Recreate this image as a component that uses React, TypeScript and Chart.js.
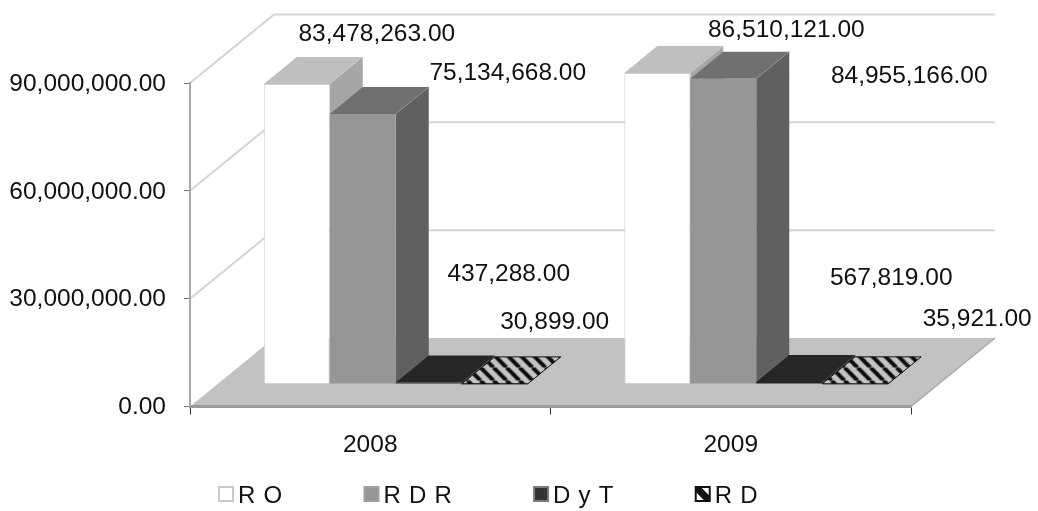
import React, { useEffect, useRef } from "react";
import { Chart, registerables } from "chart.js";

Chart.register(...registerables);

const categories = ["2008", "2009"];
const seriesNames = ["R O", "R D R", "D y T", "R D"];
const roValues = [83478263, 86510121];
const rdrValues = [75134668, 84955166];
const dytValues = [437288, 567819];
const rdValues = [30899, 35921];
const axisTicks = [0, 30000000, 60000000, 90000000];

const FONT = "Liberation Sans, Arial, sans-serif";
const BAR_SHIFT = { x: 25.5, y: -22.5 };
const BAR_DEPTH = { x: 33, y: -27 };
const WALL_DEPTH = { x: 84, y: -68.5 };
const labelOffsets = [
  [[80, -50], [129, -43]],
  [[145, -41], [186, -2]],
  [[80, -110], [102, -106]],
  [[60, -62], [122, -65]],
];
const faces = [
  { front: "#ffffff", top: "#bfbfbf", side: "#a6a6a6" },
  { front: "#969696", top: "#707070", side: "#606060" },
  { front: "#262626", top: "#262626", side: "#262626" },
  { front: "#111111", top: "hatch", side: "#111111" },
];

function hatchPattern(ctx: CanvasRenderingContext2D) {
  const size = 13;
  const tile = document.createElement("canvas");
  tile.width = size;
  tile.height = size;
  const t = tile.getContext("2d")!;
  t.fillStyle = "#c4c4c4";
  t.fillRect(0, 0, size, size);
  t.strokeStyle = "#0c0c0c";
  t.lineWidth = 4;
  for (let i = -size; i <= size * 2; i += size) {
    t.beginPath();
    t.moveTo(i, 0);
    t.lineTo(i + size, size);
    t.stroke();
  }
  return ctx.createPattern(tile, "repeat")!;
}

function poly(ctx: CanvasRenderingContext2D, pts: number[][], fill: any) {
  ctx.fillStyle = fill;
  ctx.beginPath();
  pts.forEach((p, i) => (i ? ctx.lineTo(p[0], p[1]) : ctx.moveTo(p[0], p[1])));
  ctx.closePath();
  ctx.fill();
}

const box3d = {
  id: "box3d",
  beforeDraw(chart: any) {
    const { ctx, chartArea: a, scales } = chart;
    const d = WALL_DEPTH;
    ctx.save();
    poly(ctx, [[a.left, a.bottom], [a.right, a.bottom], [a.right + d.x, a.bottom + d.y], [a.left + d.x, a.bottom + d.y]], "#c2c2c2");
    ctx.strokeStyle = "#d4d4d4";
    ctx.lineWidth = 2;
    axisTicks.slice(1).forEach((v) => {
      const y = scales.y.getPixelForValue(v);
      ctx.beginPath();
      ctx.moveTo(a.left, y);
      ctx.lineTo(a.left + d.x, y + d.y);
      ctx.lineTo(a.right + d.x, y + d.y);
      ctx.stroke();
    });
    ctx.strokeStyle = "#a8a8a8";
    ctx.lineWidth = 1.5;
    ctx.beginPath();
    ctx.moveTo(a.right, a.bottom);
    ctx.lineTo(a.right + d.x, a.bottom + d.y);
    ctx.stroke();
    ctx.restore();
  },
  beforeDatasetsDraw(chart: any) {
    const { ctx } = chart;
    const d = BAR_DEPTH;
    ctx.save();
    ctx.translate(BAR_SHIFT.x, BAR_SHIFT.y);
    chart.data.datasets.forEach((_: any, i: number) => {
      const meta = chart.getDatasetMeta(i);
      const f = faces[i];
      const top = f.top === "hatch" ? hatchPattern(ctx) : f.top;
      meta.data.forEach((el: any) => {
        const { x, y, base, width } = el.getProps(["x", "y", "base", "width"], true);
        const l = x - width / 2;
        const r = x + width / 2;
        poly(ctx, [[r, y], [r + d.x, y + d.y], [r + d.x, base + d.y], [r, base]], f.side);
        poly(ctx, [[l, y], [l + d.x, y + d.y], [r + d.x, y + d.y], [r, y]], top);
        if (i === 1) {
          ctx.strokeStyle = "#8c8c8c";
          ctx.lineWidth = 1;
          ctx.beginPath();
          ctx.moveTo(r, y);
          ctx.lineTo(r + d.x, y + d.y);
          ctx.stroke();
        }
        if (i === 3) {
          ctx.strokeStyle = "#111111";
          ctx.lineWidth = 1;
          ctx.beginPath();
          ctx.moveTo(l, y);
          ctx.lineTo(l + d.x, y + d.y);
          ctx.lineTo(r + d.x, y + d.y);
          ctx.lineTo(r, y);
          ctx.closePath();
          ctx.stroke();
        }
      });
      meta.controller.draw();
    });
    ctx.restore();
    return false;
  },
  afterDraw(chart: any) {
    const { ctx } = chart;
    ctx.save();
    ctx.font = `24.5px ${FONT}`;
    ctx.fillStyle = "#111111";
    ctx.textAlign = "center";
    ctx.textBaseline = "middle";
    chart.data.datasets.forEach((ds: any, i: number) => {
      chart.getDatasetMeta(i).data.forEach((el: any, j: number) => {
        const label = ds.data[j].toLocaleString("en-US", { minimumFractionDigits: 2 });
        const [ox, oy] = labelOffsets[i][j];
        const py = i < 2 ? el.y : chart.scales.y.getPixelForValue(0);
        ctx.fillText(label, el.x + BAR_SHIFT.x + ox, py + BAR_SHIFT.y + oy);
      });
    });
    ctx.font = `24px ${FONT}`;
    ctx.textAlign = "left";
    const boxStyle = [
      { fill: "#ffffff", line: "#c8c8c8" },
      { fill: "#969696", line: "#a0a0a0" },
      { fill: "#333333", line: "#7a7a7a" },
      { fill: "#ffffff", line: "#111111" },
    ];
    let x = 218;
    const y = 494;
    (ctx as any).wordSpacing = "1.5px";
    seriesNames.forEach((name, i) => {
      ctx.fillStyle = boxStyle[i].fill;
      ctx.strokeStyle = boxStyle[i].line;
      ctx.lineWidth = 2;
      ctx.fillRect(x + 1, y - 7, 14, 14);
      if (i === 3) {
        poly(ctx, [[x + 1, y - 7], [x + 6, y - 7], [x + 15, y + 2], [x + 15, y + 7], [x + 10, y + 7], [x + 1, y - 2]], "#111111");
      }
      ctx.strokeRect(x + 1, y - 7, 14, 14);
      ctx.fillStyle = "#111111";
      ctx.fillText(name, x + 20, y + 2);
      x += 20 + ctx.measureText(name).width + 81.3;
    });
    ctx.restore();
  },
};

export default function App() {
  const ref = useRef<HTMLCanvasElement>(null);
  useEffect(() => {
    const values = [roValues, rdrValues, dytValues, rdValues];
    const chart = new Chart(ref.current!, {
      type: "bar",
      plugins: [box3d],
      data: {
        labels: categories,
        datasets: seriesNames.map((name, i) => ({
          label: name,
          data: values[i],
          clip: false,
          backgroundColor: faces[i].front,
          borderColor: i === 0 ? "#d2d2d2" : faces[i].front,
          borderWidth: i === 0 ? 1 : 0,
        })),
      } as any,
      options: {
        animation: false,
        responsive: false,
        layout: { padding: { left: 0, right: 127, top: 83, bottom: 34.5 } },
        plugins: { legend: { display: false }, tooltip: { enabled: false }, title: { display: false } },
        datasets: { bar: { categoryPercentage: 0.732, barPercentage: 1 } },
        scales: {
          x: {
            offset: true,
            afterFit: (s: any) => { s.height = 70; },
            grid: { drawOnChartArea: false, color: "#333333", tickLength: 8, offset: true },
            border: { color: "#9a9a9a", width: 3 },
            ticks: { font: { family: FONT, size: 24.5 }, color: "#111111", padding: 16, maxRotation: 0 },
          },
          y: {
            min: 0,
            max: 90000000,
            afterFit: (s: any) => { s.width = 190; },
            afterBuildTicks: (s: any) => { s.ticks = axisTicks.map((value) => ({ value })); },
            grid: { drawOnChartArea: false, color: "#707070", tickLength: 6 },
            border: { color: "#a8a8a8", width: 2 },
            ticks: {
              font: { family: FONT, size: 24.5 },
              color: "#111111",
              padding: 18,
              labelOffset: 1,
              callback: (v: any) => Number(v).toLocaleString("en-US", { minimumFractionDigits: 2 }),
            },
          },
        },
      } as any,
    });
    return () => chart.destroy();
  }, []);
  return (
    <div style={{ position: "absolute", left: 0, top: 0, width: 1038, height: 511, background: "#fff" }}>
      <canvas ref={ref} width={1038} height={511} style={{ display: "block", filter: "blur(0.5px)" }} />
    </div>
  );
}
